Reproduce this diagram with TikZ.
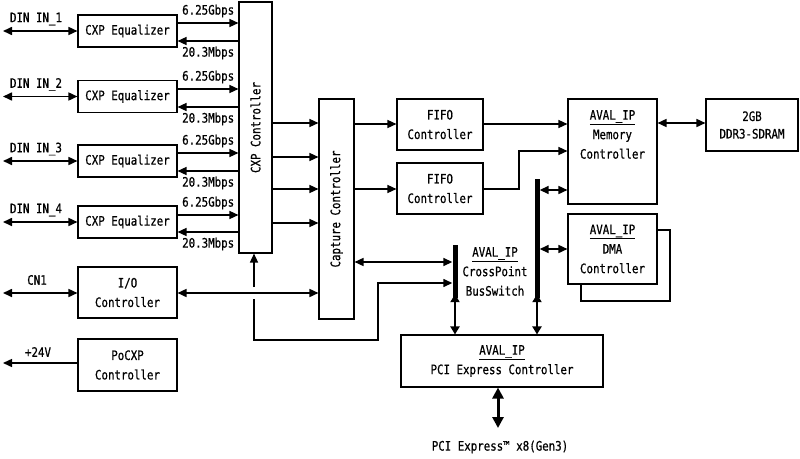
\documentclass[tikz,border=0pt]{standalone}
\usepackage{fontspec}
\usetikzlibrary{arrows.meta}
\newfontfamily\gfam[FakeStretch=0.83,FakeBold=0.6]{DejaVu Sans Mono}
\newcommand\gf{\gfam\fontsize{13pt}{19.5pt}\selectfont}
\tikzset{
  box/.style={draw, line width=1.1pt, fill=white, align=center, inner sep=0pt, font=\gf},
  lbl/.style={inner sep=0pt, align=center, font=\gf},
  tip/.tip={Triangle[length=9pt,width=8pt]},
  arr/.style={line width=1.4pt, -tip},
  darr/.style={line width=1.6pt, tip-tip},
  vdarr/.style={line width=2pt, {Triangle[length=8pt,width=9pt]}-{Triangle[length=8pt,width=9pt]}},
  bigarr/.style={line width=3pt, {Triangle[length=11pt,width=11pt]}-{Triangle[length=11pt,width=11pt]}},
  bus/.style={fill=black, inner sep=0pt, minimum width=5pt},
}
\begin{document}
\begin{tikzpicture}[x=1pt,y=-1pt]
\useasboundingbox (0,0) rectangle (800,458);

% CXP controller
\node[box, minimum width=33pt, minimum height=251pt] (cxp) at (255.5,127.5) {};
\node[lbl, rotate=90] (cxpt) at (cxp.center) {CXP Controller};

% equalizers
\foreach \i/\y/\ya/\yb in {1/31/23/41, 2/96.5/89/107, 3/161/153/171, 4/222/215/232}{
  \node[box, minimum width=99pt, minimum height=32pt] (eq\i) at (127.5,\y) {CXP Equalizer};
  \coordinate (din\i) at (3,\y);
  \draw[darr] (din\i) -- (eq\i.west);
  \node[lbl] (dinl\i) at (36,\y-12) {DIN IN\_\i};
  \draw[arr] (eq\i.east |- 0,\ya) -- (cxp.west |- 0,\ya);
  \draw[arr] (cxp.west |- 0,\yb) -- (eq\i.east |- 0,\yb);
  \node[lbl, anchor=west] (g\i) at (182,\ya-12) {6.25Gbps};
  \node[lbl, anchor=west] (m\i) at (182,\yb+12) {20.3Mbps};
}

% I/O and PoCXP
\node[box, minimum width=99pt, minimum height=51pt] (io) at (127.5,292.5) {I/O\\Controller};
\node[box, minimum width=99pt, minimum height=52pt] (po) at (127.5,365) {PoCXP\\Controller};
\coordinate (cn1) at (3,293);
\coordinate (p24) at (3,363);
\draw[darr] (cn1) -- (io.west |- cn1);
\node[lbl] (cn1l) at (37,280) {CN1};
\draw[arr] (po.west |- p24) -- (p24);
\node[lbl] (p24l) at (38,352) {+24V};

% capture controller
\node[box, minimum width=35pt, minimum height=220pt] (cap) at (336.5,209) {};
\node[lbl, rotate=90] (capt) at (cap.center) {Capture Controller};
\foreach \y in {123,157,189,223}{
  \draw[arr] (cxp.east |- 0,\y) -- (cap.west |- 0,\y);
}
\draw[darr] (io.east |- cn1) -- (cap.west |- cn1);

% FIFOs
\node[box, minimum width=86pt, minimum height=51pt] (f1) at (440,124.5) {FIFO\\Controller};
\node[box, minimum width=86pt, minimum height=51pt] (f2) at (440,188.5) {FIFO\\Controller};
\draw[arr] (cap.east |- 0,124) -- (f1.west |- 0,124);
\draw[arr] (cap.east |- 0,189) -- (f2.west |- 0,189);

% memory, DDR, DMA
\node[box, minimum width=89pt, minimum height=105pt] (mem) at (612.5,151.5) {};
\node[lbl] (memt) at (612.5,134.5) {\underline{AVAL\_IP}\\Memory\\Controller};
\node[box, minimum width=92pt, minimum height=52pt] (ddr) at (752,125) {2GB\\[-2pt]DDR3-SDRAM};
\draw[darr] (mem.east |- 0,123) -- (ddr.west |- 0,123);
\draw[box] (581,230) rectangle (670,301);
\node[box, minimum width=89pt, minimum height=70pt] (dma) at (612.5,249) {\underline{AVAL\_IP}\\DMA\\Controller};

\draw[arr] (f1.east |- 0,124) -- (mem.west |- 0,124);
\draw[arr] (f2.east |- 0,189) -- (519,189) -- (519,151) -- (mem.west |- 0,151);

% buses
\node[bus, minimum height=53pt] (xbus) at (455,271.5) {};
\node[lbl] (xbt) at (495,271.5) {\underline{AVAL\_IP}\\CrossPoint\\BusSwitch};
\node[bus, minimum height=119pt] (bus2) at (537,238.5) {};
\draw[darr] (bus2.east |- 0,190) -- (mem.west |- 0,190);
\draw[darr] (bus2.east |- 0,249) -- (dma.west |- 0,249);
\draw[darr] (cap.east |- 0,262) -- (xbus.west |- 0,262);

% loop from below CXP to crosspoint
\coordinate (upst) at (254,287);
\coordinate (lpst) at (254,299);
\draw[arr] (upst) -- (upst |- cxp.south);
\draw[arr] (lpst) -- (254,340) -- (378,340) -- (378,283) -- (xbus.west |- 0,283);

% PCI express
\node[box, minimum width=202pt, minimum height=52pt] (pci) at (502,361) {\underline{AVAL\_IP}\\PCI Express Controller};
\draw[vdarr] ([yshift=4pt]xbus.south) -- (xbus.south |- pci.north);
\draw[vdarr] ([yshift=4pt]bus2.south) -- (bus2.south |- pci.north);
\coordinate (pcib) at (498,428);
\draw[bigarr] (pci.south -| pcib) -- (pcib);
\node[lbl] (pcil) at (500,447) {PCI Express™ x8(Gen3)};
\end{tikzpicture}
\end{document}
